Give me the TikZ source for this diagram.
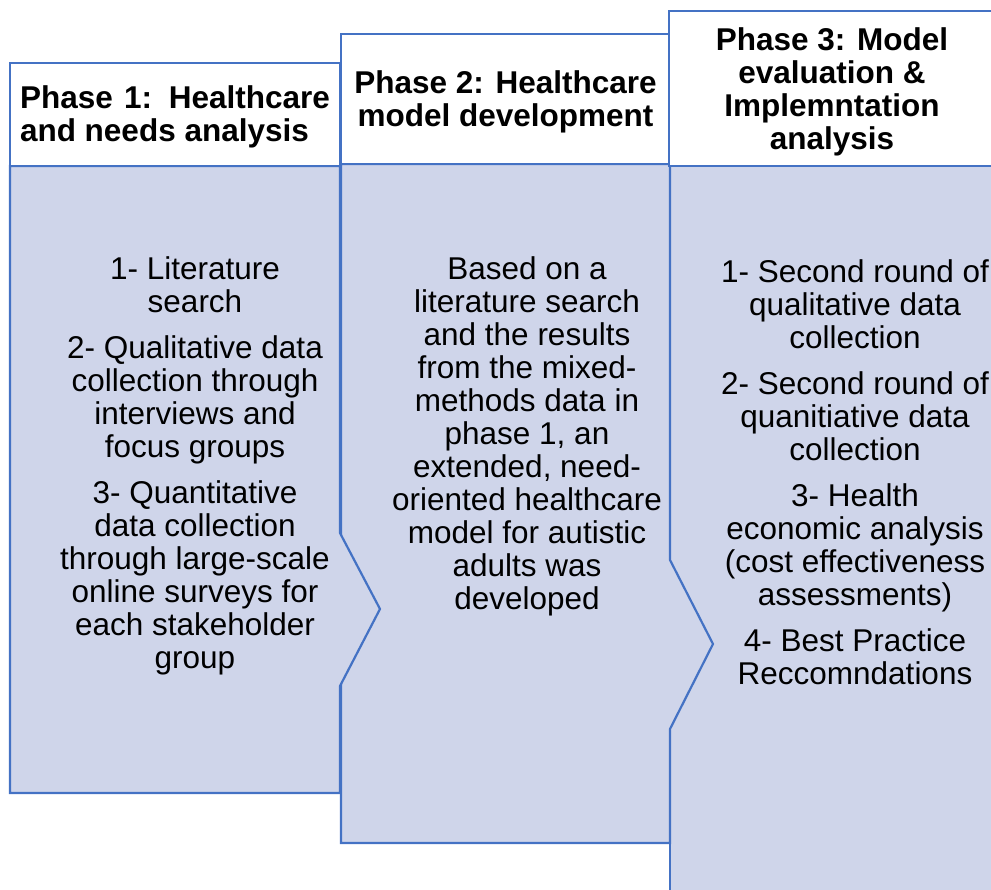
\documentclass[tikz,border=0pt]{standalone}
\usepackage{fontspec}
\setmainfont{Liberation Sans}
\definecolor{phaseblue}{HTML}{4472C4}
\definecolor{phasefill}{HTML}{CFD5EA}

\begin{document}
\begin{tikzpicture}[x=1pt,y=-1pt,
  body/.style={draw=phaseblue,fill=phasefill,line width=2.2pt,line join=miter},
  head/.style={draw=phaseblue,fill=white,line width=1.6pt,inner sep=0pt},
  title/.style={inner sep=0pt,font=\fontsize{31.5}{33}\selectfont\bfseries},
  txt/.style={align=center,inner sep=0pt,font=\fontsize{31.5}{33}\selectfont}]
\useasboundingbox (0,0) rectangle (991,890);
\clip (0,0) rectangle (991,890);
% bodies, back to front so each chevron lies over the next one
\draw[body] (670,166)--(1000,166)--(1000,900)--(670,900)--cycle;
\draw[body] (341,164)--(670,164)--(670,560)--(713,644)--(670,729)--(670,843)--(341,843)--cycle;
\draw[body] (10,166)--(340,166)--(340,533)--(380,609)--(340,686)--(340,793)--(10,793)--cycle;
% headers
\node[head,minimum width=330pt,minimum height=103pt] (ph1head) at (175,114.5) {};
\node[head,minimum width=329pt,minimum height=130pt] (ph2head) at (505.5,99) {};
\node[head,minimum width=330pt,minimum height=155pt] (ph3head) at (834,88.5) {};
\node[title,align=left] (ph1title) at ([yshift=-2.5pt]ph1head.center)
  {\makebox[310pt][s]{Phase 1: Healthcare}\\and needs analysis};
\node[title,align=center] (ph2title) at ([yshift=-3pt]ph2head.center)
  {Phase 2: Healthcare\\model development};
\node[title,align=center] (ph3title) at ([xshift=-2pt,yshift=-3pt]ph3head.center)
  {Phase 3: Model\\evaluation \&\\Implemntation\\analysis};
% body texts
\node[txt] (ph1text) at (195,465.5) {1- Literature\\search\\[13pt]
  2- Qualitative data\\collection through\\interviews and\\focus groups\\[13pt]
  3- Quantitative\\data collection\\through large-scale\\online surveys for\\each stakeholder\\group};
\node[txt] (ph2text) at (527,436.5) {Based on a\\literature search\\and the results\\from the mixed-\\methods data in\\phase 1, an\\extended, need-\\oriented healthcare\\model for autistic\\adults was\\developed};
\node[txt] (ph3text) at (855,472.5) {1- Second round of\\qualitative data\\collection\\[13pt]
  2- Second round of\\quanitiative data\\collection\\[13pt]
  3- Health\\economic analysis\\(cost effectiveness\\assessments)\\[13pt]
  4- Best Practice\\Reccomndations};
\end{tikzpicture}
\end{document}
